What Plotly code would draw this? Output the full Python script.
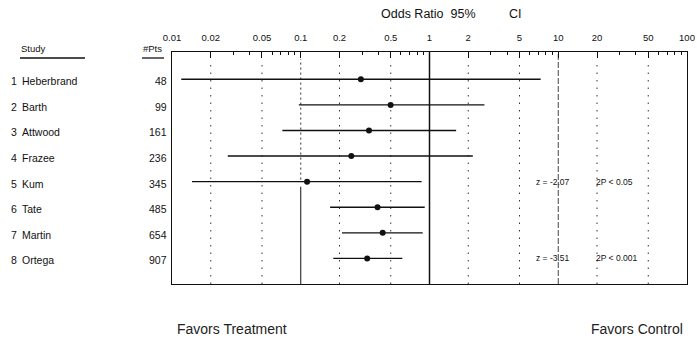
import plotly.graph_objects as go

# ---- data ----
study_names = ["Heberbrand", "Barth", "Attwood", "Frazee", "Kum", "Tate", "Martin", "Ortega"]
n_pts = [48, 99, 161, 236, 345, 485, 654, 907]
odds_ratio = [0.293, 0.499, 0.339, 0.247, 0.112, 0.395, 0.433, 0.328]
ci_low = [0.0118, 0.0966, 0.072, 0.0271, 0.0143, 0.169, 0.209, 0.179]
ci_high = [7.3, 2.67, 1.61, 2.17, 0.869, 0.918, 0.885, 0.615]
tick_vals = [0.01, 0.02, 0.05, 0.1, 0.2, 0.5, 1, 2, 5, 10, 20, 50, 100]
tick_text = ["0.01", "0.02", "0.05", "0.1", "0.2", "0.5", "1", "2", "5", "10", "20", "50", "100"]
dotted_refs = [0.02, 0.05, 0.2, 0.5, 2, 5, 20, 50]
stat_rows = [5, 8]
stat_z = ["z = -2.07", "z = -3.51"]
stat_p = ["2P < 0.05", "2P < 0.001"]

rows = list(range(1, len(study_names) + 1))
FONT = "Liberation Sans, Arial, sans-serif"
INK = "#111111"

W, H = 697, 338
L, R, T, B = 172, 10, 52, 54
PW = W - L - R
PH = H - T - B


def px_x(px):
    return (px - L) / PW


def px_y(py):
    return 1 - (py - T) / PH


fig = go.Figure()

# CI lines
for r, lo, hi in zip(rows, ci_low, ci_high):
    fig.add_trace(go.Scatter(x=[lo, hi], y=[r, r], mode="lines",
                             line=dict(color=INK, width=1.4),
                             showlegend=False, hoverinfo="skip"))
# point estimates
fig.add_trace(go.Scatter(x=odds_ratio, y=rows, mode="markers",
                         marker=dict(color=INK, size=6),
                         showlegend=False))

shapes = []
for v in dotted_refs:
    shapes.append(dict(type="line", xref="x", yref="paper", x0=v, x1=v, y0=0, y1=0.97,
                       line=dict(color="#333", width=1, dash="1.5px,6px"), layer="below"))
# 0.1 reference: dotted upper, solid lower
shapes.append(dict(type="line", xref="x", yref="paper", x0=0.1, x1=0.1, y0=0.45, y1=0.97,
                   line=dict(color="#333", width=1, dash="2px,3px"), layer="below"))
shapes.append(dict(type="line", xref="x", yref="y", x0=0.1, x1=0.1, y0=5.2, y1=9.0,
                   line=dict(color=INK, width=1), layer="below"))
# line of no effect
shapes.append(dict(type="line", xref="x", yref="paper", x0=1, x1=1, y0=0, y1=1,
                   line=dict(color=INK, width=1.5), layer="below"))
# 10 reference
shapes.append(dict(type="line", xref="x", yref="paper", x0=10, x1=10, y0=0, y1=1,
                   line=dict(color="#444", width=1, dash="6px,2px"), layer="below"))
# header underlines
shapes.append(dict(type="line", xref="paper", yref="paper", x0=px_x(20), x1=px_x(85),
                   y0=px_y(58), y1=px_y(58), line=dict(color=INK, width=1.3)))
shapes.append(dict(type="line", xref="paper", yref="paper", x0=px_x(142), x1=px_x(164),
                   y0=px_y(58), y1=px_y(58), line=dict(color=INK, width=1.3)))

annotations = []
for r, name, n in zip(rows, study_names, n_pts):
    annotations.append(dict(x=px_x(9), y=r, xref="paper", yref="y", text=str(r),
                            showarrow=False, xanchor="left", yanchor="middle", yshift=-2,
                            font=dict(family=FONT, size=10.5, color=INK)))
    annotations.append(dict(x=px_x(20), y=r, xref="paper", yref="y", text=name,
                            showarrow=False, xanchor="left", yanchor="middle", yshift=-2,
                            font=dict(family=FONT, size=10.5, color=INK)))
    annotations.append(dict(x=px_x(169), y=r, xref="paper", yref="y", text=str(n),
                            showarrow=False, xanchor="right", yanchor="middle", yshift=-2,
                            font=dict(family=FONT, size=10.5, color=INK)))

annotations.append(dict(x=px_x(19), y=px_y(48), xref="paper", yref="paper", text="Study",
                        showarrow=False, xanchor="left", yanchor="middle",
                        font=dict(family=FONT, size=9.5, color=INK)))
annotations.append(dict(x=px_x(164), y=px_y(48), xref="paper", yref="paper", text="#Pts",
                        showarrow=False, xanchor="right", yanchor="middle",
                        font=dict(family=FONT, size=9.5, color=INK)))
annotations.append(dict(x=px_x(379), y=px_y(14), xref="paper", yref="paper",
                        text="Odds Ratio  95%",
                        showarrow=False, xanchor="left", yanchor="middle",
                        font=dict(family=FONT, size=12.5, color=INK)))
annotations.append(dict(x=px_x(524), y=px_y(14), xref="paper", yref="paper",
                        text="CI",
                        showarrow=False, xanchor="right", yanchor="middle",
                        font=dict(family=FONT, size=12.5, color=INK)))

for r, z, p in zip(stat_rows, stat_z, stat_p):
    annotations.append(dict(x=px_x(534), y=r, xref="paper", yref="y", text=z,
                            showarrow=False, xanchor="left", yanchor="middle",
                            font=dict(family=FONT, size=8.5, color=INK)))
    annotations.append(dict(x=px_x(594), y=r, xref="paper", yref="y", text=p,
                            showarrow=False, xanchor="left", yanchor="middle",
                            font=dict(family=FONT, size=8.5, color=INK)))

annotations.append(dict(x=px_x(175), y=px_y(329), xref="paper", yref="paper",
                        text="Favors Treatment", showarrow=False, xanchor="left",
                        yanchor="middle", font=dict(family=FONT, size=14, color="#222")))
annotations.append(dict(x=px_x(685), y=px_y(329), xref="paper", yref="paper",
                        text="Favors Control", showarrow=False, xanchor="right",
                        yanchor="middle", font=dict(family=FONT, size=14, color="#222")))

minor_vals = [m * 10 ** e for e in range(-2, 2) for m in range(2, 10)]

fig.update_layout(
    width=W, height=H,
    margin=dict(l=L, r=R, t=T, b=B, autoexpand=False),
    plot_bgcolor="white", paper_bgcolor="white",
    shapes=shapes, annotations=annotations,
    xaxis=dict(type="log", range=[-2, 2], side="top", automargin=False,
               tickvals=tick_vals, ticktext=tick_text, tickangle=0,
               ticks="inside", ticklen=6, tickwidth=1, tickcolor=INK,
               minor=dict(tickvals=minor_vals, ticks="inside", ticklen=3,
                          tickcolor=INK, showgrid=False),
               showgrid=False, zeroline=False,
               showline=True, linecolor=INK, linewidth=1.3, mirror=True,
               tickfont=dict(family=FONT, size=9.5, color=INK), ticklabelstandoff=6),
    yaxis=dict(range=[9.0, -0.067], showticklabels=False, ticks="", automargin=False,
               showgrid=False, zeroline=False,
               showline=True, linecolor=INK, linewidth=1.3, mirror=True),
)

fig.write_html("out.html", config={"displayModeBar": False},
               post_script="document.body.style.margin='0';document.body.style.overflow='hidden';")
